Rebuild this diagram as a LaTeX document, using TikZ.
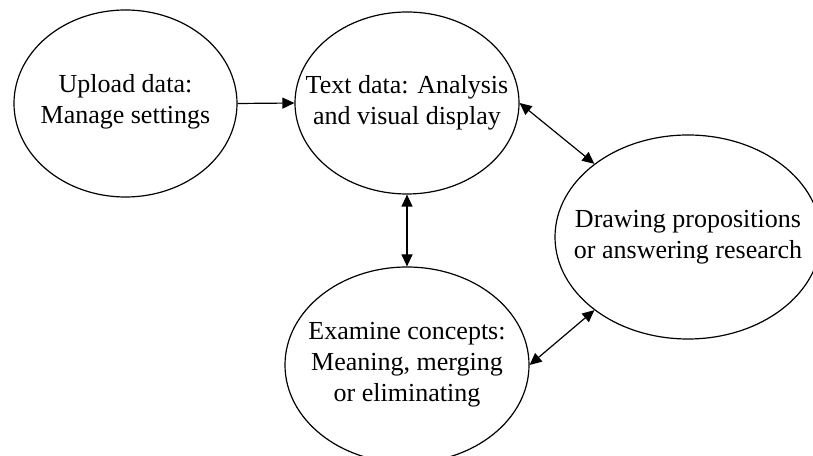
\documentclass[tikz,border=0pt]{standalone}
\usepackage{fontspec}
\setmainfont{Liberation Serif}
\usetikzlibrary{shapes.geometric,arrows.meta}

\tikzset{
  bubble/.style={draw=black, line width=1.2pt, ellipse, inner sep=0pt},
  caption/.style={align=center, inner sep=0pt, font=\fontsize{26}{31}\selectfont},
  tip/.style={Triangle[length=12pt,width=11pt]},
  link/.style={line width=1.2pt, -{Triangle[length=12pt,width=11pt]}},
  twoway/.style={line width=1.2pt, {Triangle[length=12pt,width=11pt]}-{Triangle[length=12pt,width=11pt]}}
}

\begin{document}
\begin{tikzpicture}[x=1pt,y=1pt]
  \useasboundingbox (0,0) rectangle (813,455);
  \clip (0,0) rectangle (813,455);

  % the four stages
  \node[bubble, minimum width=223pt, minimum height=187pt] (upload) at (125.5,351.5) {};
  \node[bubble, minimum width=224pt, minimum height=182pt] (textdata) at (407,352) {};
  \node[bubble, minimum width=266pt, minimum height=204pt] (drawing) at (688,218) {};
  \node[bubble, minimum width=244pt, minimum height=196pt] (examine) at (407,90) {};

  % their captions
  \node[caption] (uploadT) at (125.5,353) {Upload data:\\Manage settings};
  \node[caption] (textdataT) at (textdata) {Text data: Analysis\\and visual display};
  \node[caption] (drawingT) at (drawing) {Drawing propositions\\or answering research};
  \node[caption] (examineT) at (examine) {Examine concepts:\\Meaning, merging\\or eliminating};

  % flow between the stages
  \draw[link] (upload.east) -- (textdata.west);
  \draw[twoway] (textdata.south) -- (examine.north);
  \draw[twoway] (textdata.east) -- (drawing.142);
  \draw[twoway] (examine.east) -- (drawing.218);
\end{tikzpicture}
\end{document}
